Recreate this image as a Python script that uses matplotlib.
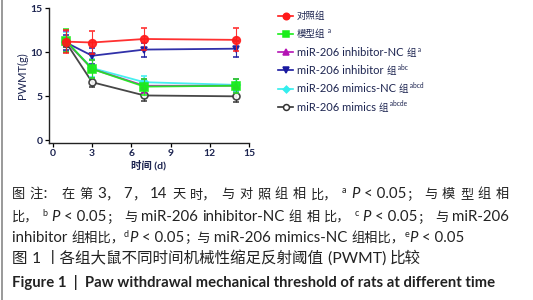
import numpy as np
import matplotlib
matplotlib.use("Agg")
import matplotlib.pyplot as plt
from matplotlib.lines import Line2D

plt.rcParams["font.family"] = ["Lato", "Noto Sans CJK SC", "DejaVu Sans"]

# --- data ---
days = [1, 3, 7, 14]
groups = ["对照组", "模型组", "miR-206 inhibitor-NC 组", "miR-206 inhibitor 组",
          "miR-206 mimics-NC 组", "miR-206 mimics 组"]
sups = ["", "a", "a", "abc", "abcd", "abcde"]
means = [
    [11.2, 11.1, 11.5, 11.4],
    [11.3, 8.1, 6.1, 6.2],
    [11.2, 8.1, 6.2, 6.2],
    [11.1, 9.6, 10.3, 10.4],
    [11.2, 8.2, 6.6, 6.3],
    [11.1, 6.6, 5.1, 5.0],
]
errs = [
    [1.3, 1.3, 1.2, 1.3],
    [1.3, 1.0, 0.9, 0.8],
    [1.2, 1.0, 0.8, 0.8],
    [0.9, 0.9, 0.8, 0.9],
    [1.1, 1.0, 0.7, 0.7],
    [0.5, 0.5, 0.6, 0.6],
]
colors = ["#ff1a1a", "#1aee1a", "#b414b4", "#1a1aa0", "#33eeee", "#333333"]
markers = ["o", "s", "^", "v", "D", "o"]
faces = ["#ff1a1a", "#1aee1a", "#b414b4", "#1a1aa0", "#33eeee", "white"]
msizes = [5.5, 5.5, 4.5, 4.5, 4, 5]

navy = "#1c2450"

fig = plt.figure(figsize=(5.33, 3.0), dpi=100)
ax = fig.add_axes([0.092, 0.523, 0.375, 0.45])

n = len(groups)
for i in range(n):
    ax.errorbar(days, means[i], yerr=errs[i], color=colors[i], marker=markers[i],
                mfc=faces[i], mec=colors[i], ms=msizes[i], mew=1.2, lw=1.3,
                elinewidth=0.8, capsize=2.5, capthick=0.8, zorder=10 - i, alpha=0.9)

ax.set_xlim(-0.3, 15)
ax.set_ylim(-0.3, 15)
ax.set_xticks([0, 3, 6, 9, 12, 15])
ax.set_yticks([0, 5, 10, 15])
for s in ["top", "right"]:
    ax.spines[s].set_visible(False)
for s in ["left", "bottom"]:
    ax.spines[s].set_linewidth(1.0)
    ax.spines[s].set_color("#222222")
ax.tick_params(length=3, width=0.9, labelsize=7.5, labelcolor=navy, pad=1.5)
for t in ax.get_xticklabels() + ax.get_yticklabels():
    t.set_fontweight("bold")
ax.set_xlabel("时间 (d)", fontsize=7.5, color=navy, labelpad=1, fontweight="bold")
ax.set_ylabel("PWMT(g)", fontsize=8, color=navy, labelpad=2)

renderer = fig.canvas.get_renderer()


def is_cjk(ch):
    return ord(ch) >= 0x2E80


def split_script(s):
    segs = []
    for ch in s:
        c = is_cjk(ch)
        if segs and segs[-1][1] == c:
            segs[-1][0] += ch
        else:
            segs.append([ch, c])
    return segs


def runs_at(x, y, runs, width=None, lat=8, cjk=8, color="#222222"):
    """Draw text runs side by side in pixel coords; optionally justify to width."""
    W, H = fig.bbox.width, fig.bbox.height
    groups_ = []
    for txt, style in runs:
        parts = []
        for seg, c in split_script(txt):
            p = dict(color=color, fontsize=cjk if c else lat)
            dy = 0
            if "sup" in style:
                p["fontsize"] = lat * 0.6
                dy = lat * 0.5
            if "it" in style:
                p["fontstyle"] = "italic"
            if "bold" in style:
                p["fontweight"] = "bold"
            t = fig.text(0, 0, seg, va="baseline", ha="left", **p)
            w = t.get_window_extent(renderer).width
            parts.append((t, w, dy))
        groups_.append(parts)
    total = sum(w for g in groups_ for _, w, _ in g)
    gap = 0
    if width is not None and len(groups_) > 1:
        gap = (width - total) / (len(groups_) - 1)
    cx = x
    for g in groups_:
        for t, w, dy in g:
            t.set_position((cx / W, 1 - (y - dy) / H))
            cx += w
        cx += gap


# --- legend (manual) ---
for i in range(n):
    ly = 15.5 + i * 18.3
    fig.add_artist(Line2D([278 / 533, 293 / 533], [1 - ly / 300] * 2, color=colors[i], lw=1.2))
    fig.add_artist(Line2D([285.5 / 533], [1 - ly / 300], color=colors[i], marker=markers[i],
                          mfc=faces[i], mec=colors[i], ms=msizes[i] * 0.85, mew=1.1, lw=0))
    r = [(groups[i], "")]
    if sups[i]:
        r.append((" " + sups[i], "sup"))
    runs_at(297, ly + 3.5, r, lat=8, cjk=6.8, color=navy)

# --- caption ---
ck = dict(lat=10.8, cjk=9.5, color="#222222")
runs_at(12, 198, [("图", ""), ("注：", ""), ("在", ""), ("第", ""), ("3，", ""), ("7，", ""), ("14", ""),
                  ("天", ""), ("时，", ""), ("与", ""), ("对", ""), ("照", ""), ("组", ""), ("相", ""),
                  ("比，", ""), ("a", "sup"), ("P", "it"), ("< 0.05；", ""), ("与", ""), ("模", ""),
                  ("型", ""), ("组", ""), ("相", "")], width=497, **ck)
runs_at(12, 221, [("比，", ""), ("b", "sup"), ("P", "it"), ("< 0.05；", ""), ("与", ""),
                  ("miR-206", ""), ("inhibitor-NC", ""), ("组", ""), ("相", ""), ("比，", ""),
                  ("c", "sup"), ("P", "it"), ("< 0.05；", ""), ("与", ""), ("miR-206", "")],
        width=497, **ck)
runs_at(12, 242, [("inhibitor 组相比，", ""), ("d", "sup"), ("P", "it"),
                  (" < 0.05；与 miR-206 mimics-NC 组相比，", ""),
                  ("e", "sup"), ("P", "it"), (" < 0.05", "")], **ck)
runs_at(12, 263, [("图 1 丨各组大鼠不同时间机械性缩足反射阈值 (PWMT) 比较", "")],
        lat=11.3, cjk=11.2, color="#222222")
runs_at(12, 287, [("Figure 1  |  Paw withdrawal mechanical threshold of rats at different time", "bold")],
        lat=10.7, cjk=10.7, color="#222222")

# left border line
fig.add_artist(Line2D([0.003, 0.003], [0, 1], color="#888888", lw=1.2))

fig.savefig("out.png", dpi=100)
